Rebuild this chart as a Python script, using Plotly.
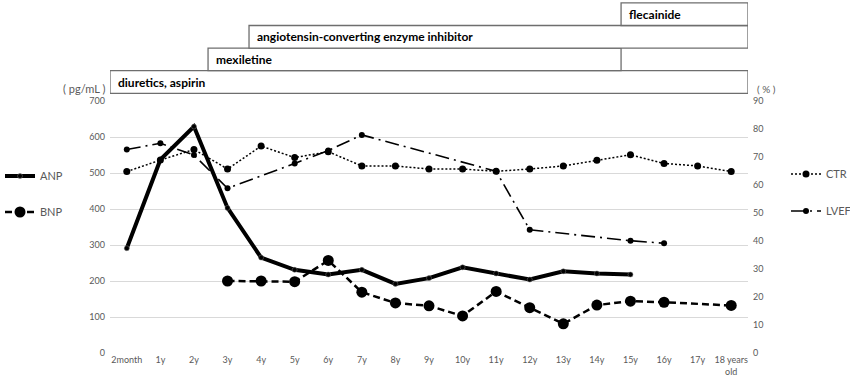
import plotly.graph_objects as go

categories = ["2month", "1y", "2y", "3y", "4y", "5y", "6y", "7y", "8y", "9y", "10y",
              "11y", "12y", "13y", "14y", "15y", "16y", "17y", "18 years<br>old"]

anp = [291, 537, 629, 403, 265, 231, 218, 231, 192, 208, 238,
       221, 204, 227, 221, 218, None, None, None]
bnp = [None, None, None, 200, 200, 198, 257, 169, 139, 131, 103,
       171, 126, 81, 133, 144, 141, None, 132]
ctr = [64.8, 68.9, 72.7, 65.7, 73.9, 69.8, 71.9, 66.8, 66.8, 65.7, 65.7,
       64.9, 65.7, 66.8, 68.8, 70.8, 67.7, 66.8, 64.8]
lvef = [72.7, 74.9, 70.7, 58.8, None, 67.7, 72.3, 77.9, None, None, None,
        64.9, 44.0, None, None, 40.1, 39.2, None, None]

treatments = ["diuretics, aspirin", "mexiletine",
              "angiotensin-converting enzyme inhibitor", "flecainide"]
treat_start = [-0.5, 2.42, 3.64, 14.72]
treat_end = [18.5, 14.72, 18.5, 18.5]

FONT = "Lato, 'Open Sans', sans-serif"
GRAY = "#595959"

fig = go.Figure()
fig.add_trace(go.Scatter(x=categories, y=anp, name="ANP", mode="lines+markers",
                         line=dict(color="black", width=4),
                         marker=dict(size=5, color="black", line=dict(color="#777", width=0.5)),
                         legend="legend"))
fig.add_trace(go.Scatter(x=categories, y=bnp, name="BNP", mode="lines+markers",
                         connectgaps=True,
                         line=dict(color="black", width=2.5, dash="7px,4px"),
                         marker=dict(size=11, color="black"),
                         legend="legend2"))
fig.add_trace(go.Scatter(x=categories, y=ctr, name="CTR", mode="lines+markers",
                         yaxis="y2",
                         line=dict(color="black", width=1.5, dash="2px,2px"),
                         marker=dict(size=7, color="black"),
                         legend="legend3"))
fig.add_trace(go.Scatter(x=categories, y=lvef, name="LVEF", mode="lines+markers",
                         yaxis="y2", connectgaps=True,
                         line=dict(color="black", width=1.6, dash="14px,5px,2px,5px"),
                         marker=dict(size=6, color="black"),
                         legend="legend4"))

L, R, T, B = 110, 102, 101, 25
W, H = 850, 378
pw, ph = W - L - R, H - T - B

def px_x(px):
    return (px - L) / pw

def px_y(py):
    return (H - B - py) / ph

row_h = (93.3 - 70.7) / ph
row0 = px_y(93.3)
shapes = []
annotations = []
for i, (name, s, e) in enumerate(zip(treatments, treat_start, treat_end)):
    y0 = row0 + i * row_h
    y1 = y0 + row_h
    shapes.append(dict(type="rect", xref="x", yref="paper", x0=s, x1=e, y0=y0, y1=y1,
                       line=dict(color="#6e6e6e", width=1.3), fillcolor="white", layer="above"))
    annotations.append(dict(text="<b>" + name + "</b>", xref="x", yref="paper",
                            x=s, y=(y0 + y1) / 2, xanchor="left", yanchor="middle",
                            xshift=6, showarrow=False,
                            font=dict(family=FONT, size=12, color="black")))

annotations.append(dict(text="( pg/mL )", xref="paper", yref="paper", x=px_x(107), y=px_y(89),
                        xanchor="right", yanchor="middle", showarrow=False,
                        font=dict(family=FONT, size=11, color=GRAY)))
annotations.append(dict(text="( % )", xref="paper", yref="paper", x=px_x(755), y=px_y(89),
                        xanchor="left", yanchor="middle", showarrow=False,
                        font=dict(family=FONT, size=10, color=GRAY)))

def leg(px, py):
    return dict(x=px_x(px), y=px_y(py), xanchor="left", yanchor="middle",
                bgcolor="rgba(0,0,0,0)", font=dict(family=FONT, size=11, color=GRAY),
                itemwidth=30)

fig.update_layout(
    width=W, height=H,
    margin=dict(l=L, r=R, t=T, b=B, autoexpand=False),
    paper_bgcolor="white", plot_bgcolor="white",
    font=dict(family=FONT, size=9, color=GRAY),
    showlegend=True,
    legend=leg(0, 176),
    legend2=leg(0, 212),
    legend3=leg(786, 174),
    legend4=leg(786, 211),
    xaxis=dict(type="category", categoryorder="array", categoryarray=categories,
               range=[-0.5, 18.5],
               showgrid=False, zeroline=False, showline=False, ticks="",
               tickfont=dict(family=FONT, size=9, color=GRAY), automargin=False),
    yaxis=dict(range=[0, 700], dtick=100, showgrid=True, gridcolor="#d9d9d9", gridwidth=1,
               zeroline=False, showline=False, ticks="", ticklabelstandoff=4,
               tickfont=dict(family=FONT, size=9, color=GRAY), automargin=False),
    yaxis2=dict(range=[0, 90], dtick=10, overlaying="y", side="right", showgrid=False,
                zeroline=False, showline=False, ticks="", ticklabelstandoff=4,
                tickfont=dict(family=FONT, size=9, color=GRAY), automargin=False),
    shapes=shapes,
    annotations=annotations,
)

fig.write_html("out.html", config={"displayModeBar": False},
               post_script="document.body.style.margin='0px';")
